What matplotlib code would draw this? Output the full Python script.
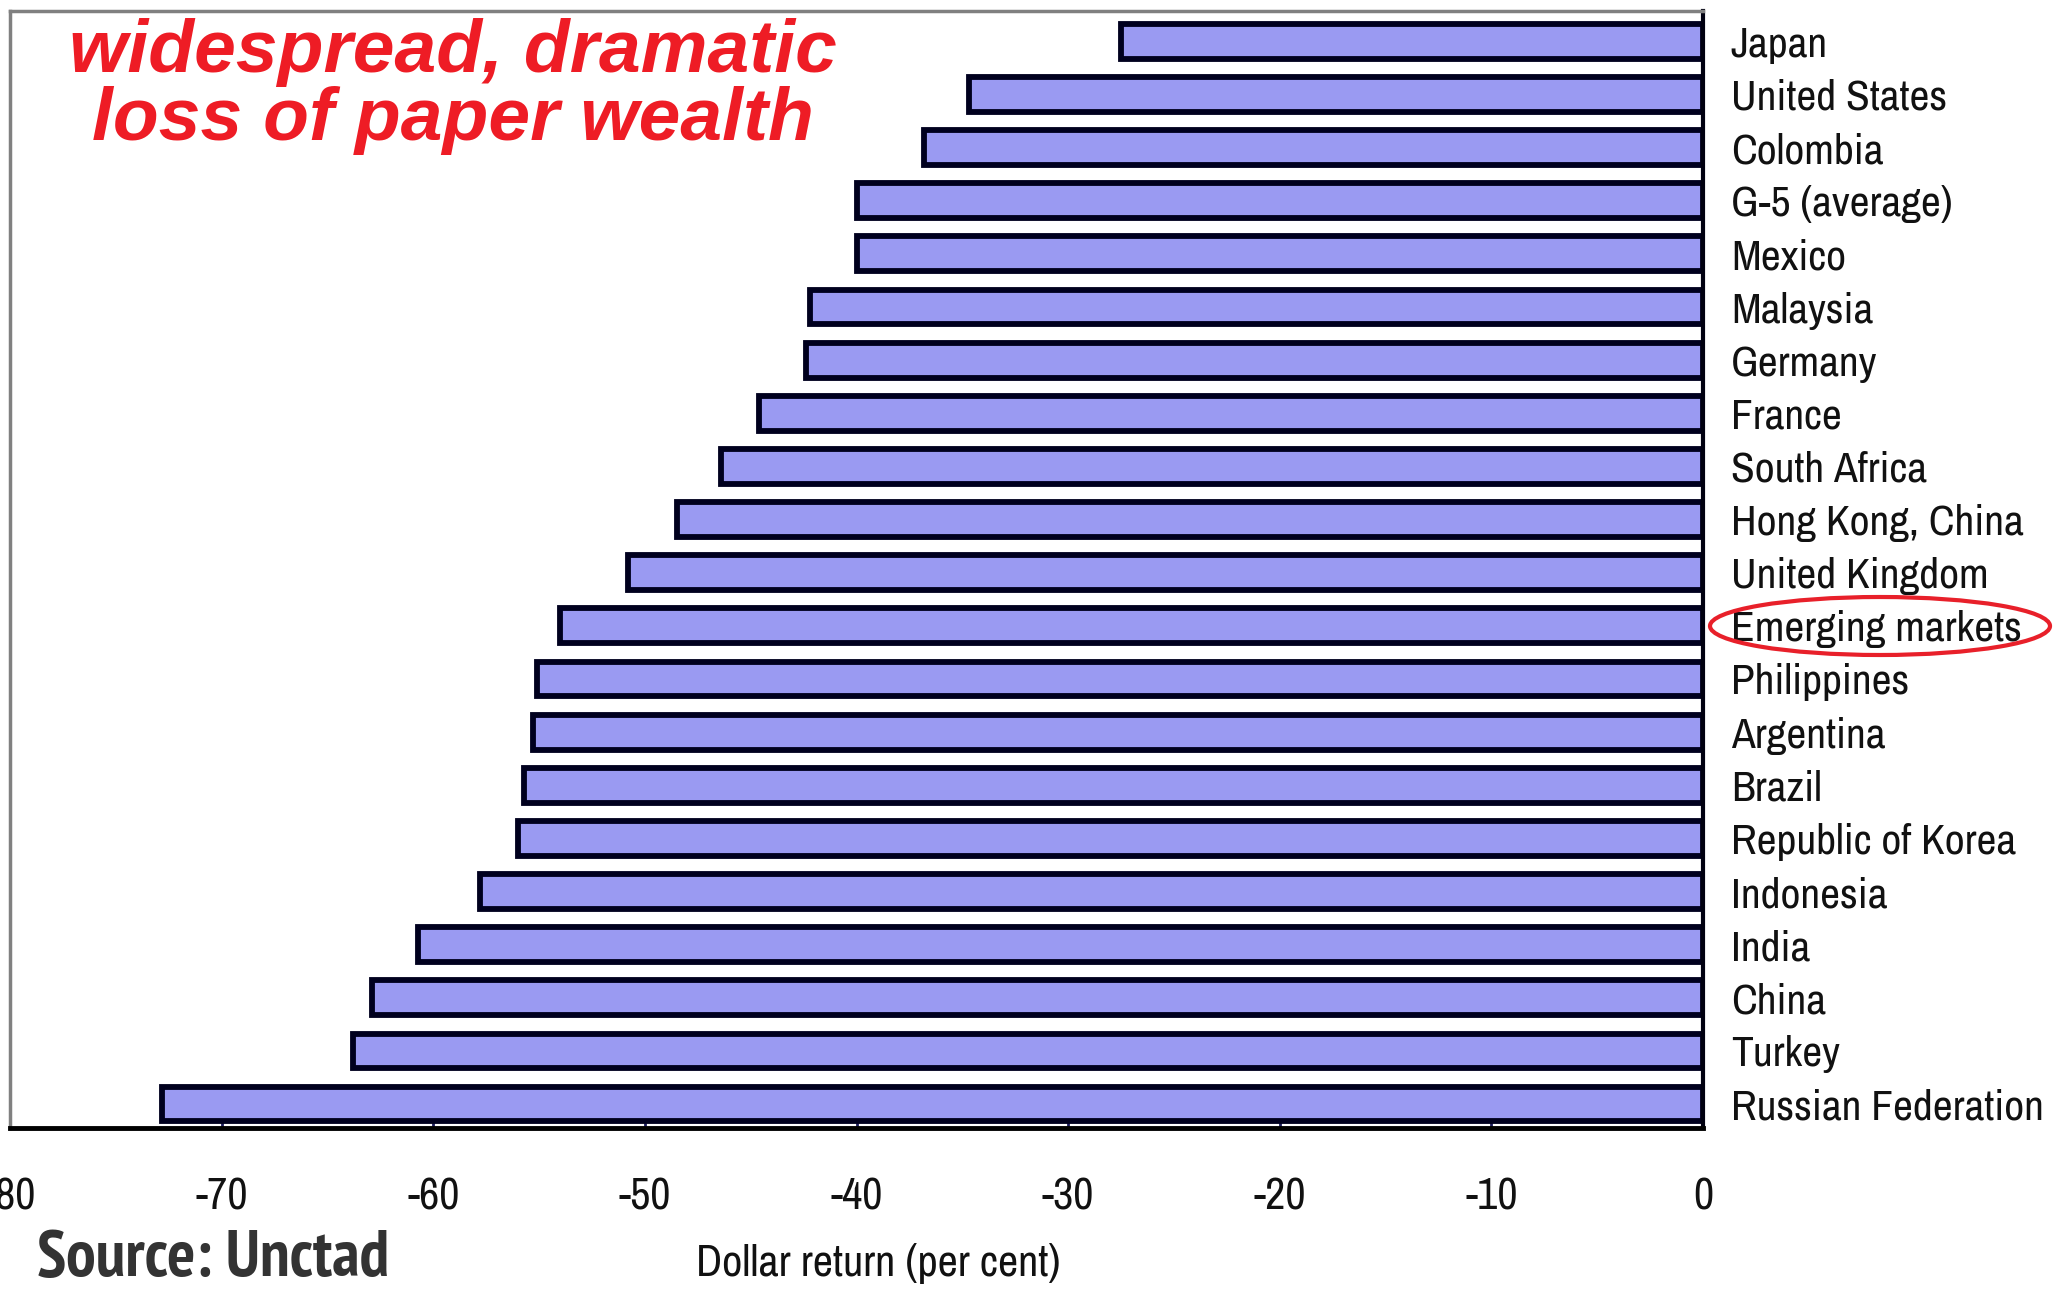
import matplotlib
matplotlib.use("Agg")
import matplotlib.pyplot as plt
from matplotlib import font_manager
from matplotlib.patches import Ellipse
import numpy as np

# Dollar return (per cent) by market
countries = [
    "Japan", "United States", "Colombia", "G-5 (average)", "Mexico",
    "Malaysia", "Germany", "France", "South Africa", "Hong Kong, China",
    "United Kingdom", "Emerging markets", "Philippines", "Argentina", "Brazil",
    "Republic of Korea", "Indonesia", "India", "China", "Turkey",
    "Russian Federation",
]
returns = [
    -27.5, -34.7, -36.8, -40.0, -40.0,
    -42.2, -42.4, -44.6, -46.4, -48.5,
    -50.8, -54.0, -55.1, -55.3, -55.7,
    -56.0, -57.8, -60.7, -62.9, -63.8,
    -72.8,
]
x_ticks = [-80, -70, -60, -50, -40, -30, -20, -10, 0]
x_tick_labels = ["-80", "-70", "-60", "-50", "-40", "-30", "-20", "-10", "0"]

# pick narrow sans faces for the axis texts and the bold source line
faces = font_manager.fontManager.ttflist
installed = {f.name for f in faces}
bold_faces = {f.name for f in faces if int(f.weight) >= 700}
narrow_pref = ["Liberation Sans Narrow", "Arial Narrow", "Archivo Narrow", "PT Sans Narrow",
               "Roboto Condensed", "Open Sans Condensed", "Fira Sans Condensed",
               "Sofia Sans Condensed"]
narrow = next((n for n in narrow_pref if n in installed), "Liberation Sans")
narrow_bold = next((n for n in narrow_pref if n in bold_faces), "Liberation Sans")
plt.rcParams["font.family"] = [narrow, "DejaVu Sans"]

W, H = 2053, 1290
fig = plt.figure(figsize=(W / 100, H / 100), dpi=100, facecolor="white")

left, right, top, bottom = 10, 1703, 10.5, 1128
ax = fig.add_axes([left / W, 1 - bottom / H, (right - left) / W, (bottom - top) / H])

ypos = np.arange(len(countries))[::-1]
ax.barh(ypos, returns, height=0.655, color="#9a9af2", edgecolor="#00001e",
        linewidth=4.2, zorder=2)

ax.set_xlim(-80, 0)
ax.set_ylim(-0.45, 20.58)

# frame: grey top/left, black bottom and zero line
for side in ("top", "left"):
    ax.spines[side].set_color("#808080")
    ax.spines[side].set_linewidth(2.5)
ax.spines["bottom"].set_color("#000000")
ax.spines["bottom"].set_linewidth(3.5)
ax.spines["right"].set_color("#000010")
ax.spines["right"].set_linewidth(3)
for s in ax.spines.values():
    s.set_zorder(3)

ax.set_xticks(x_ticks)
ax.set_xticklabels(x_tick_labels)
ax.tick_params(axis="x", direction="in", length=7, width=2, color="#1a1a5a",
               pad=36, labelsize=28, labelcolor="#111111")

ax.yaxis.tick_right()
ax.set_yticks(ypos)
ax.set_yticklabels(countries)
ax.tick_params(axis="y", length=0, pad=20, labelsize=31, labelcolor="#111111")

xlab = ax.set_xlabel("Dollar return (per cent)", fontsize=29, color="#111111")

# headline
red = "#ee1c25"
head_font = ["Liberation Sans", "DejaVu Sans"]
fig.text(453 / W, 1 - 72 / H, "widespread, dramatic", ha="center", va="baseline",
         fontsize=54, fontweight="bold", fontstyle="italic", color=red, family=head_font)
fig.text(453 / W, 1 - 140 / H, "loss of paper wealth", ha="center", va="baseline",
         fontsize=54, fontweight="bold", fontstyle="italic", color=red, family=head_font)

# highlight around the emerging-markets label
fig.add_artist(Ellipse((1880 / W, 1 - 626 / H), 340 / W, 58 / H,
                       transform=fig.transFigure, fill=False,
                       edgecolor="#e8202a", linewidth=3))

source = fig.text(37 / W, 1 - 1276 / H, "Source: Unctad", ha="left", va="baseline",
                  fontsize=40, fontweight="bold", color="#333333",
                  family=[narrow_bold, "DejaVu Sans"])

# size the narrow-face texts to their intended pixel widths
fig.canvas.draw()
renderer = fig.canvas.get_renderer()


def fit(texts, sample, target_px):
    width = sample.get_window_extent(renderer).width
    scale = target_px / width
    for t in texts:
        t.set_fontsize(t.get_fontsize() * scale)


ylabels = ax.get_yticklabels()
fit(ylabels, ylabels[-1], 313)
xlabels = ax.get_xticklabels()
fit(xlabels, xlabels[1], 52)
fit([xlab], xlab, 364)
fit([source], source, 352)
for lbl in xlabels:
    lbl.set_clip_on(False)

xlab.set_verticalalignment("center")
ax.xaxis.set_label_coords((878 - left) / (right - left), -(1263 - bottom) / (bottom - top))

fig.savefig("out.png", dpi=100, facecolor="white")
